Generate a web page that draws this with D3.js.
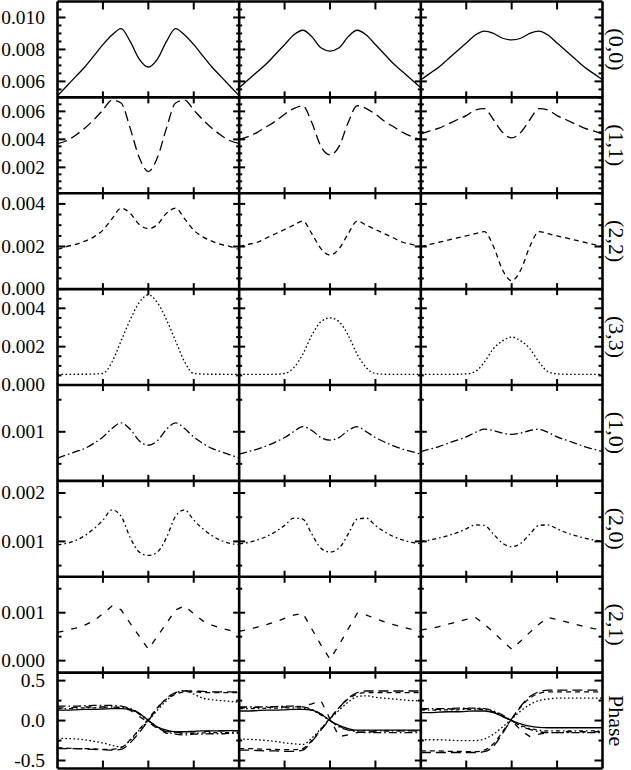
<!DOCTYPE html>
<html><head><meta charset="utf-8">
<script src="https://cdn.jsdelivr.net/npm/d3@7"></script>
<style>body{margin:0;background:#fff}</style></head>
<body><svg id="c" width="631" height="770"></svg>
<script>
// sample positions across each panel
const xs=[-1,-0.9,-0.8,-0.7,-0.6,-0.5,-0.4,-0.3,-0.2,-0.1,0,0.1,0.2,0.3,0.4,0.5,0.6,0.7,0.8,0.9,1];
const rowNames=["(0,0)","(1,1)","(2,2)","(3,3)","(1,0)","(2,0)","(2,1)","Phase"];

// amplitude series: one array per column
const amp00=[
 [0.0051,0.0057,0.0063,0.0069,0.0076,0.0083,0.0089,0.0093,0.0085,0.0074,0.0069,0.0074,0.0085,0.0093,0.0089,0.0083,0.0076,0.0069,0.0063,0.0057,0.0051],
 [0.0056,0.0061,0.0066,0.0071,0.0077,0.0083,0.0089,0.0092,0.0088,0.0081,0.0079,0.0081,0.0088,0.0092,0.0089,0.0083,0.0077,0.0071,0.0066,0.0061,0.0056],
 [0.0061,0.0065,0.0069,0.0074,0.0079,0.0084,0.0089,0.00915,0.0090,0.0087,0.0086,0.0087,0.0090,0.00915,0.0089,0.0084,0.0079,0.0074,0.0069,0.0065,0.0061]];
const amp11=[
 [0.0037,0.0039,0.0043,0.0048,0.0054,0.0061,0.0068,0.0066,0.0048,0.0027,0.0017,0.0027,0.0048,0.0066,0.0068,0.0061,0.0054,0.0048,0.0043,0.0039,0.0037],
 [0.0040,0.0042,0.0045,0.0049,0.0053,0.0058,0.0062,0.0064,0.0052,0.0035,0.0029,0.0035,0.0052,0.0064,0.0062,0.0058,0.0053,0.0049,0.0045,0.0042,0.0040],
 [0.0044,0.0046,0.0048,0.0051,0.0054,0.0057,0.0061,0.0062,0.0054,0.0045,0.0041,0.0045,0.0054,0.0062,0.0061,0.0057,0.0054,0.0051,0.0048,0.0046,0.0044]];
const amp22=[
 [0.00186,0.0020,0.0021,0.00225,0.00245,0.00277,0.0033,0.0038,0.00356,0.00303,0.00284,0.00303,0.00356,0.0038,0.0033,0.00277,0.00245,0.00225,0.0021,0.0020,0.00186],
 [0.0020,0.0021,0.0022,0.0024,0.0026,0.0028,0.0030,0.0032,0.0026,0.0019,0.0016,0.0019,0.0026,0.0032,0.0030,0.0028,0.0026,0.0024,0.0022,0.0021,0.0020],
 [0.0020,0.0021,0.0022,0.0023,0.0024,0.0025,0.0026,0.0027,0.0020,0.0009,0.0004,0.0009,0.0020,0.0027,0.0026,0.0025,0.0024,0.0023,0.0022,0.0021,0.0020]];
const amp33=[
 [0.00055,0.00055,0.00056,0.00056,0.00057,0.0006,0.0012,0.0023,0.0034,0.0043,0.0047,0.0043,0.0034,0.0023,0.0012,0.0006,0.00057,0.00056,0.00056,0.00055,0.00055],
 [0.00055,0.00055,0.00055,0.00055,0.00056,0.0006,0.0009,0.0016,0.0026,0.0033,0.0035,0.0033,0.0026,0.0016,0.0009,0.0006,0.00056,0.00055,0.00055,0.00055,0.00055],
 [0.00055,0.00055,0.00055,0.00055,0.00056,0.00058,0.0007,0.0012,0.0019,0.0023,0.0025,0.0023,0.0019,0.0012,0.0007,0.00058,0.00056,0.00055,0.00055,0.00055,0.00055]];
const amp10=[
 [0.00059,0.00064,0.00069,0.00074,0.00082,0.00092,0.00105,0.00114,0.00104,0.00086,0.00079,0.00086,0.00104,0.00114,0.00105,0.00092,0.00082,0.00074,0.00069,0.00064,0.00059],
 [0.00065,0.00069,0.00073,0.00078,0.00084,0.00091,0.00100,0.00108,0.00102,0.00091,0.00087,0.00091,0.00102,0.00108,0.00100,0.00091,0.00084,0.00078,0.00073,0.00069,0.00065],
 [0.00069,0.00073,0.00077,0.00082,0.00087,0.00092,0.00099,0.00104,0.00102,0.00098,0.00096,0.00098,0.00102,0.00104,0.00099,0.00092,0.00087,0.00082,0.00077,0.00073,0.00069]];
const amp20=[
 [0.00093,0.00096,0.00102,0.00112,0.00126,0.00144,0.00165,0.00152,0.00108,0.00078,0.00071,0.00078,0.00108,0.00152,0.00165,0.00144,0.00126,0.00112,0.00102,0.00096,0.00093],
 [0.00095,0.00098,0.00103,0.00110,0.00120,0.00133,0.00148,0.00146,0.00115,0.00086,0.00078,0.00086,0.00115,0.00146,0.00148,0.00133,0.00120,0.00110,0.00103,0.00098,0.00095],
 [0.00100,0.00103,0.00107,0.00112,0.00118,0.00126,0.00134,0.00133,0.00115,0.00096,0.00089,0.00096,0.00115,0.00133,0.00134,0.00126,0.00118,0.00112,0.00107,0.00103,0.00100]];
const amp21=[
 [0.00059,0.00063,0.00068,0.00074,0.00083,0.00098,0.00114,0.00106,0.00078,0.00051,0.00024,0.00051,0.00078,0.00106,0.00114,0.00098,0.00083,0.00074,0.00068,0.00063,0.00059],
 [0.00061,0.00065,0.00070,0.00075,0.00081,0.00088,0.00095,0.00099,0.00066,0.00033,0.00003,0.00033,0.00066,0.00099,0.00095,0.00088,0.00081,0.00075,0.00070,0.00065,0.00061],
 [0.00064,0.00067,0.00071,0.00076,0.00081,0.00086,0.00090,0.00076,0.00059,0.00041,0.00024,0.00041,0.00059,0.00076,0.00090,0.00086,0.00081,0.00076,0.00071,0.00067,0.00064]];

// phase series: one array per column
const ph00=[
 [0.13,0.13,0.135,0.14,0.14,0.145,0.15,0.15,0.14,0.09,0.0,-0.08,-0.12,-0.14,-0.14,-0.135,-0.13,-0.13,-0.13,-0.125,-0.125],
 [0.12,0.12,0.125,0.13,0.13,0.135,0.14,0.14,0.13,0.08,0.0,-0.06,-0.1,-0.12,-0.12,-0.12,-0.12,-0.12,-0.12,-0.12,-0.12],
 [0.10,0.10,0.105,0.11,0.11,0.115,0.12,0.12,0.1,0.05,0.0,-0.04,-0.07,-0.085,-0.09,-0.09,-0.09,-0.09,-0.09,-0.09,-0.09]];
const ph11=[
 [-0.35,-0.35,-0.35,-0.355,-0.36,-0.365,-0.37,-0.36,-0.28,-0.15,0.0,0.15,0.28,0.35,0.37,0.37,0.365,0.36,0.36,0.36,0.36],
 [-0.37,-0.37,-0.375,-0.38,-0.38,-0.385,-0.385,-0.37,-0.26,-0.12,0.02,0.16,0.28,0.35,0.37,0.37,0.37,0.37,0.37,0.37,0.37],
 [-0.40,-0.40,-0.40,-0.40,-0.40,-0.40,-0.40,-0.39,-0.32,-0.16,0.02,0.18,0.30,0.36,0.38,0.38,0.38,0.38,0.38,0.38,0.38]];
const ph22=[
 [-0.34,-0.345,-0.35,-0.35,-0.355,-0.36,-0.36,-0.34,-0.24,-0.11,0.02,0.16,0.27,0.33,0.36,0.36,0.35,0.35,0.35,0.35,0.35],
 [-0.35,-0.35,-0.355,-0.36,-0.36,-0.365,-0.365,-0.35,-0.25,-0.11,0.03,0.16,0.27,0.33,0.35,0.35,0.35,0.35,0.35,0.35,0.35],
 [-0.38,-0.38,-0.38,-0.385,-0.385,-0.39,-0.39,-0.37,-0.29,-0.14,0.02,0.17,0.28,0.34,0.36,0.36,0.36,0.36,0.36,0.36,0.36]];
const ph33=[
 [-0.22,-0.225,-0.23,-0.24,-0.26,-0.28,-0.31,-0.33,-0.25,-0.12,0.0,0.13,0.25,0.34,0.38,0.33,0.28,0.26,0.25,0.24,0.23],
 [-0.23,-0.235,-0.24,-0.25,-0.26,-0.28,-0.29,-0.30,-0.22,-0.1,0.02,0.13,0.23,0.30,0.31,0.29,0.28,0.27,0.26,0.25,0.25],
 [-0.24,-0.24,-0.24,-0.245,-0.25,-0.25,-0.25,-0.23,-0.17,-0.08,0.02,0.12,0.2,0.25,0.27,0.28,0.28,0.28,0.28,0.28,0.28]];
const ph10=[
 [0.18,0.18,0.18,0.185,0.19,0.19,0.19,0.18,0.15,0.09,0.0,-0.09,-0.14,-0.17,-0.18,-0.17,-0.17,-0.165,-0.165,-0.16,-0.16],
 [0.17,0.17,0.17,0.175,0.175,0.18,0.18,0.17,0.14,0.08,0.0,-0.08,-0.12,-0.14,-0.15,-0.15,-0.15,-0.15,-0.15,-0.15,-0.15],
 [0.15,0.15,0.15,0.15,0.155,0.155,0.155,0.15,0.12,0.07,0.0,-0.07,-0.11,-0.14,-0.15,-0.15,-0.15,-0.15,-0.15,-0.15,-0.15]];
const ph20=[
 [0.15,0.15,0.155,0.16,0.16,0.165,0.17,0.165,0.14,0.08,0.0,-0.08,-0.13,-0.15,-0.16,-0.16,-0.155,-0.15,-0.15,-0.15,-0.15],
 [0.15,0.15,0.15,0.155,0.155,0.16,0.16,0.155,0.13,0.07,0.0,-0.07,-0.11,-0.13,-0.13,-0.13,-0.13,-0.13,-0.13,-0.13,-0.13],
 [0.13,0.13,0.13,0.135,0.135,0.14,0.14,0.135,0.11,0.06,0.0,-0.06,-0.1,-0.12,-0.13,-0.13,-0.13,-0.13,-0.13,-0.13,-0.13]];
const ph21=[
 [0.16,0.16,0.165,0.17,0.17,0.17,0.17,0.16,0.13,0.05,-0.02,-0.1,-0.16,-0.15,-0.14,-0.14,-0.14,-0.13,-0.13,-0.13,-0.13],
 [0.16,0.16,0.165,0.165,0.17,0.17,0.17,0.18,0.21,0.25,0.02,-0.2,-0.18,-0.15,-0.14,-0.14,-0.13,-0.13,-0.13,-0.13,-0.13],
 [0.14,0.14,0.14,0.145,0.145,0.15,0.15,0.14,0.11,0.05,0.0,-0.12,-0.2,-0.17,-0.15,-0.15,-0.14,-0.14,-0.14,-0.14,-0.14]];

// y domains and tick labels per row
const yDomains=[[0.005,0.011],[0.00015,0.007],[0,0.0045],[0,0.005],[0.000234,0.00173],[0.00027,0.00225],[-0.00025,0.00175],[-0.6,0.6]];
const majorTicks=[[0.006,0.008,0.010],[0.002,0.004,0.006],[0,0.002,0.004],[0,0.002,0.004],[0.001],[0.001,0.002],[0,0.001],[-0.5,0,0.5]];
const tickLabels=[["0.006","0.008","0.010"],["0.002","0.004","0.006"],["0.000","0.002","0.004"],["0.000","0.002","0.004"],["0.001"],["0.001","0.002"],["0.000","0.001"],["-0.5","0.0","0.5"]];
const minorSteps=[0.0005,0.0005,0.0005,0.0005,0.0005,0.0005,0.0005,0.25];
const xTicks=[-0.5,0,0.5];

const dashes=[null,"10,5","5,4","1.6,2.4","8,3,1.6,3","4,3,1.6,3","6,8"];
const curves=[d3.curveMonotoneX,d3.curveMonotoneX,d3.curveMonotoneX,d3.curveMonotoneX,d3.curveMonotoneX,d3.curveMonotoneX,d3.curveLinear];
const ampRows=[amp00,amp11,amp22,amp33,amp10,amp20,amp21];
const phaseSeries=[ph00,ph11,ph22,ph33,ph10,ph20,ph21];

const svg=d3.select("#c");
svg.append("rect").attr("width",631).attr("height",770).attr("fill","#fff");
const L=57.5,R=602.5,T=1.5,B=768.5;
const colW=(R-L)/3,rowH=(B-T)/8;
const defs=svg.append("defs");

function yScale(r){return d3.scaleLinear().domain(yDomains[r]).range([T+(r+1)*rowH,T+r*rowH]);}
function xScale(c){return d3.scaleLinear().domain([-1,1]).range([L+c*colW,L+(c+1)*colW]);}

for(let r=0;r<8;r++){
  const ys=yScale(r);
  for(let c=0;c<3;c++){
    const xsc=xScale(c);
    const id="clip"+r+"_"+c;
    defs.append("clipPath").attr("id",id).append("rect")
      .attr("x",L+c*colW).attr("y",T+r*rowH).attr("width",colW).attr("height",rowH);
    const g=svg.append("g").attr("clip-path","url(#"+id+")");
    const drawLine=(vals,k)=>{
      const line=d3.line().x((d,i)=>xsc(xs[i])).y(d=>ys(d)).curve(curves[k]);
      g.append("path").attr("d",line(vals)).attr("fill","none").attr("stroke","#000")
        .attr("stroke-width",1.3).attr("stroke-dasharray",dashes[k]);
    };
    if(r<7){drawLine(ampRows[r][c],r);}
    else{phaseSeries.forEach((s,k)=>drawLine(s[c],k));}
  }
}

// frame
const fr=svg.append("g").attr("stroke","#000").attr("stroke-width",2.6);
for(let r=0;r<=8;r++){fr.append("line").attr("x1",L).attr("x2",R).attr("y1",T+r*rowH).attr("y2",T+r*rowH);}
for(let c=0;c<=3;c++){fr.append("line").attr("x1",L+c*colW).attr("x2",L+c*colW).attr("y1",T).attr("y2",B);}

// x ticks on every horizontal boundary
const tk=svg.append("g").attr("stroke","#000").attr("stroke-width",2);
for(let r=0;r<=8;r++){
  const y=T+r*rowH;
  const up=(r===0)?0:6, down=(r===8)?0:6;
  const up2=(r===8)?8:up, down2=(r===0)?8:down;
  for(let c=0;c<3;c++){
    const xsc=xScale(c);
    xTicks.forEach(t=>{tk.append("line").attr("x1",xsc(t)).attr("x2",xsc(t)).attr("y1",y-up2).attr("y2",y+down2);});
  }
}
// y ticks on every vertical boundary
for(let r=0;r<8;r++){
  const ys=yScale(r);
  const dom=yDomains[r];
  const st=minorSteps[r];
  const minors=[];
  for(let v=Math.ceil(dom[0]/st-1e-6)*st;v<=dom[1]+1e-12;v+=st){
    if(!majorTicks[r].some(m=>Math.abs(m-v)<st*0.01)) minors.push(v);
  }
  for(let c=0;c<=3;c++){
    const x=L+c*colW;
    const left=(c===0)?0:1, right=(c===3)?0:1;
    const drawT=(v,len,edge)=>{
      const y=ys(v);
      if(y<T+0.5||y>T+8*rowH+0.5) return;
      const a=(c===3)?edge:len*left, b=(c===0)?edge:len*right;
      tk.append("line").attr("x1",x-a).attr("x2",x+b).attr("y1",y).attr("y2",y);
    };
    majorTicks[r].forEach(v=>drawT(v,6,8));
    minors.forEach(v=>drawT(v,3,4));
  }
  // tick labels
  majorTicks[r].forEach((v,i)=>{
    svg.append("g").attr("transform","translate(45,"+ys(v)+") scale(1.08,1)")
      .append("text").attr("text-anchor","end").attr("dy","0.35em")
      .attr("font-family","'Liberation Serif','Times New Roman',serif").attr("font-size",18)
      .text(tickLabels[r][i]);
  });
  // row name
  svg.append("text").attr("transform","translate(617,"+(T+(r+0.5)*rowH)+") rotate(90)")
    .attr("text-anchor","middle").attr("dy","0.35em")
    .attr("font-family","'Liberation Serif','Times New Roman',serif").attr("font-size",22)
    .text(rowNames[r]);
}
</script></body></html>
